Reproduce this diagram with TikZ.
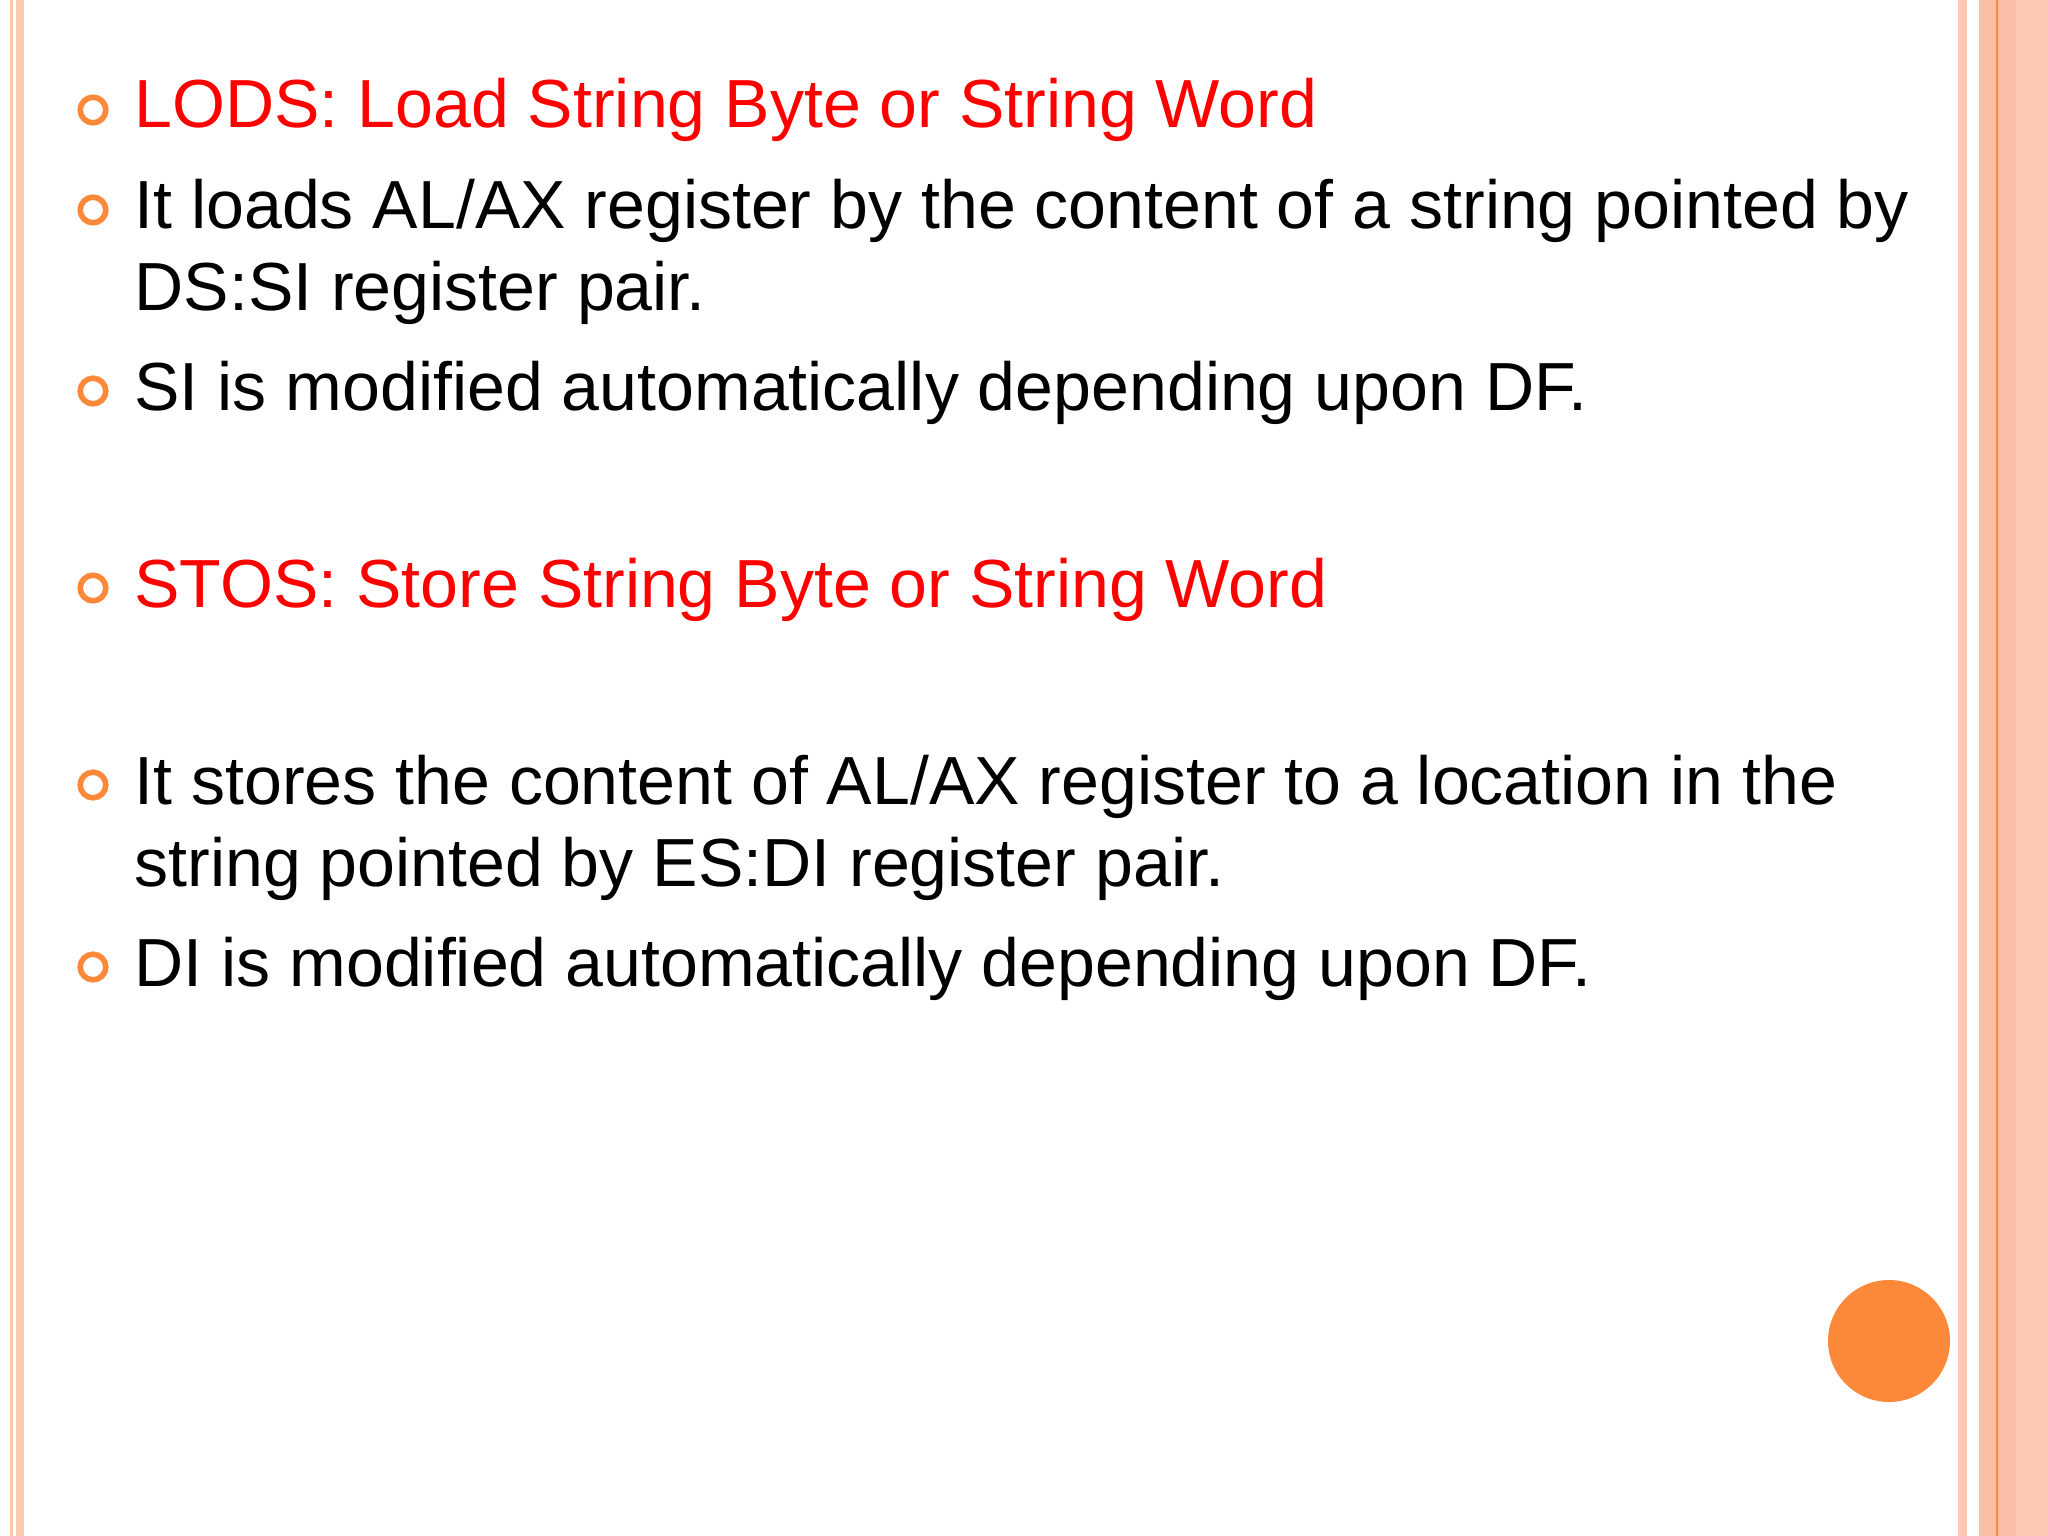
\documentclass[tikz,border=0pt]{standalone}
\usepackage{fontspec}
\setmainfont{Liberation Sans}
\definecolor{salm}{RGB}{251,200,178}
\definecolor{salmd}{RGB}{249,190,165}
\definecolor{org}{RGB}{252,137,58}
\definecolor{txtred}{RGB}{255,0,0}
\begin{document}
\begin{tikzpicture}[x=0.0125cm,y=-0.0125cm,
  txt/.style={anchor=base west,inner sep=0,font=\fontsize{24.2}{32}\selectfont,align=left},
  bul/.style={circle,draw=org,line width=0.07cm,minimum size=0.32cm,inner sep=0}]
\useasboundingbox (0,0) rectangle (2048,1536);
\fill[salm] (10,0) rectangle (13,1536);
\fill[salm] (16,0) rectangle (24,1536);
\fill[salm] (1958,0) rectangle (1967,1536);
\fill[salmd] (1979,0) rectangle (2016,1536);
\fill[salm] (2016,0) rectangle (2048,1536);
\fill[org] (1996,0) rectangle (1998,1536);
\node[bul] (b1) at (93,110) {};
\node[txt,text=txtred] (t1) at (134,127) {LODS: Load String Byte or String Word};
\node[bul] (b2) at (93,210) {};
\node[txt] (t2) at (134,228) {It loads AL/AX register by the content of a string pointed by};
\node[txt] (t2b) at (134,310) {DS:SI register pair.};
\node[bul] (b3) at (93,391) {};
\node[txt] (t3) at (134,410) {SI is modified automatically depending upon DF.};
\node[bul] (b4) at (93,588) {};
\node[txt,text=txtred] (t4) at (134,607) {STOS: Store String Byte or String Word};
\node[bul] (b5) at (93,785) {};
\node[txt] (t5) at (134,804) {It stores the content of AL/AX register to a location in the};
\node[txt] (t5b) at (134,886) {string pointed by ES:DI register pair.};
\node[bul] (b6) at (93,967) {};
\node[txt] (t6) at (134,986) {DI is modified automatically depending upon DF.};
\fill[org] (1889,1341) circle[radius=61];
\end{tikzpicture}
\end{document}
